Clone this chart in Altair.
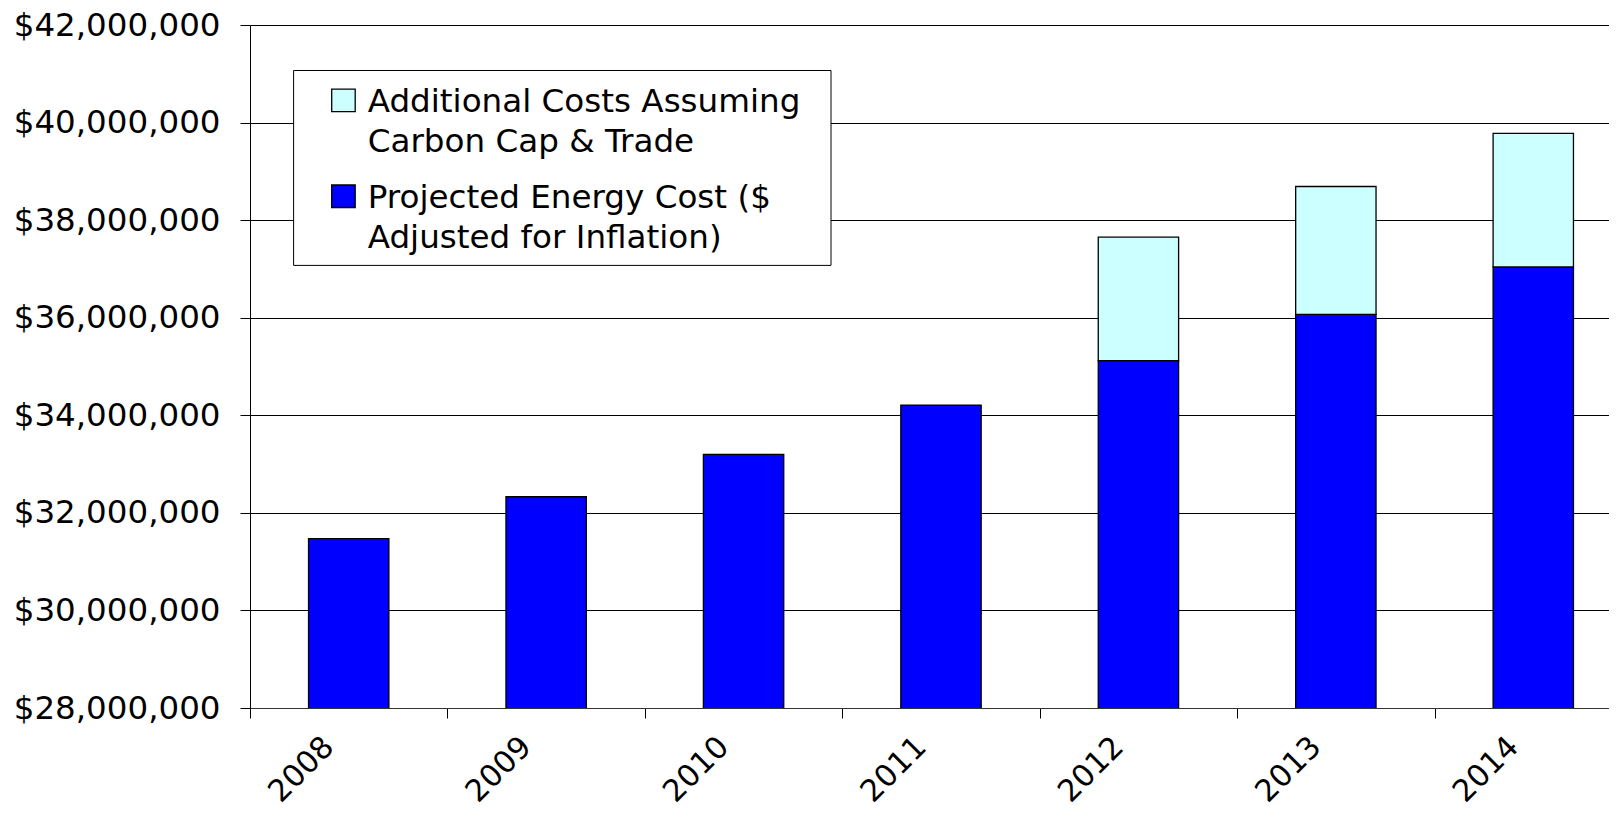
import altair as alt
import pandas as pd

# ---------------- data ----------------
years = ["2008", "2009", "2010", "2011", "2012", "2013", "2014"]
projected = [31470000, 32330000, 33200000, 34210000, 35120000, 36070000, 37040000]
additional = [0, 0, 0, 0, 2530000, 2620000, 2740000]
series = [
    "Additional Costs Assuming Carbon Cap & Trade",
    "Projected Energy Cost ($ Adjusted for Inflation)",
]
legend_lines = [
    "Additional Costs Assuming\nCarbon Cap & Trade",
    "Projected Energy Cost ($\nAdjusted for Inflation)",
]
colors = ["#CCFFFF", "#0000FF"]
y_ticks = [28000000, 30000000, 32000000, 34000000, 36000000, 38000000, 40000000, 42000000]

FONT = "DejaVu Sans"

rows = []
for yr, p, a in zip(years, projected, additional):
    rows.append({"year": yr, "series": series[1], "value": p, "ord": 0})
    if a > 0:
        rows.append({"year": yr, "series": series[0], "value": a, "ord": 1})
df = pd.DataFrame(rows)

color_scale = alt.Scale(domain=series, range=colors)

bars = alt.Chart(df).mark_bar(
    stroke="black", strokeWidth=1.3, clip=True, width=alt.RelativeBandSize(0.407)
).encode(
    x=alt.X(
        "year:N",
        sort=years,
        scale=alt.Scale(range=[0, 1382], paddingInner=0, paddingOuter=0),
        axis=alt.Axis(
            title=None,
            tickBand="extent",
            labelAngle=-45,
            labelAlign="right",
            labelBaseline="middle",
            labelOffset=-20,
            labelPadding=24,
            tickSize=10,
            tickColor="black",
            domainColor="#333333",
            labelFont=FONT,
            labelFontSize=30.5,
            labelColor="black",
            labelLimit=0,
            grid=False,
        ),
    ),
    y=alt.Y(
        "value:Q",
        stack="zero",
        scale=alt.Scale(domain=[28000000, 42000000], zero=False, nice=False),
        axis=alt.Axis(
            title=None,
            values=y_ticks,
            format="$,.0f",
            tickSize=10,
            tickColor="black",
            domainColor="black",
            gridColor="black",
            gridWidth=1,
            gridOpacity=1,
            labelFont=FONT,
            labelFontSize=32.5,
            labelColor="black",
            labelPadding=20,
            labelLimit=0,
        ),
    ),
    color=alt.Color("series:N", scale=color_scale, legend=None),
    order=alt.Order("ord:Q", sort="ascending"),
)

# ---------------- manual legend ----------------
leg_df = pd.DataFrame({"series": series, "label": legend_lines})

box = alt.Chart(pd.DataFrame({"k": [0]})).mark_rect(
    fill="white", stroke="black", strokeWidth=1
).encode(
    x=alt.value(43.6), x2=alt.value(581), y=alt.value(45.5), y2=alt.value(240.4)
)

legend_layers = [box]
sym_y = [64.1, 160.0]
txt_y = [86.8, 182.8]
for i, s in enumerate(series):
    sub = alt.Chart(leg_df).transform_filter(alt.datum.series == s)
    legend_layers.append(
        sub.mark_rect(stroke="black", strokeWidth=1.3).encode(
            x=alt.value(81.7), x2=alt.value(105.2),
            y=alt.value(sym_y[i]), y2=alt.value(sym_y[i] + 22.5),
            color=alt.Color("series:N", scale=color_scale, legend=None),
        )
    )
    legend_layers.append(
        sub.mark_text(
            align="left", baseline="alphabetic", font=FONT, fontSize=32.6,
            lineBreak="\n", lineHeight=40, color="black",
        ).encode(x=alt.value(117.7), y=alt.value(txt_y[i]), text="label:N")
    )

chart = alt.layer(bars, *legend_layers).properties(
    width=1359,
    height=683,
    autosize=alt.AutoSizeParams(type="none"),
    padding={"left": 242, "top": 17, "right": 0, "bottom": 105},
).configure_view(strokeWidth=0).configure(background="white")

chart.save("out.html", embed_options={"renderer": "svg", "actions": False})
